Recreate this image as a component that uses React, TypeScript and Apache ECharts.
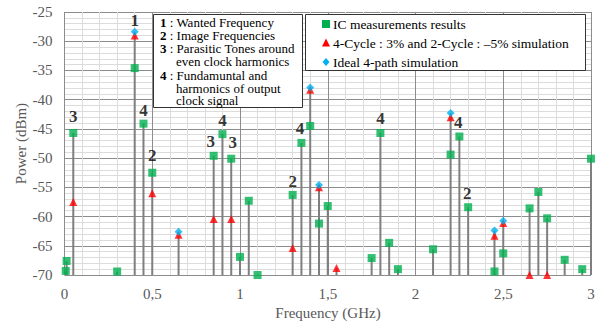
import React, { useEffect, useRef } from "react";
import * as echarts from "echarts";

// IC measurements (green squares)
const measFreq = [0.007, 0.012, 0.05, 0.3, 0.4, 0.45, 0.5, 0.85, 0.9, 0.95, 1.0, 1.05, 1.1, 1.3, 1.35, 1.4, 1.45, 1.5, 1.75, 1.8, 1.85, 1.9, 2.1, 2.2, 2.25, 2.3, 2.45, 2.5, 2.65, 2.7, 2.75, 2.85, 2.95, 3.0];
const measPower = [-69.3, -67.6, -45.7, -69.4, -34.6, -44.1, -52.5, -49.6, -45.9, -50.1, -66.9, -57.3, -70.0, -56.3, -47.4, -44.5, -61.2, -58.2, -67.1, -45.7, -64.5, -69.0, -65.6, -49.4, -46.3, -58.4, -69.4, -66.3, -58.6, -55.8, -60.3, -67.4, -69.0, -50.1];

// 4-Cycle 3% / 2-Cycle -5% simulation (red triangles)
const simFreq = [0.05, 0.4, 0.5, 0.65, 0.85, 0.95, 1.3, 1.4, 1.45, 1.55, 2.2, 2.45, 2.5, 2.65, 2.75];
const simPower = [-57.5, -29.0, -56.0, -63.1, -60.4, -60.4, -65.4, -38.3, -55.0, -68.8, -43.0, -63.3, -61.1, -70.0, -70.0];

// Ideal 4-path simulation (blue diamonds)
const idealFreq = [0.4, 0.65, 1.4, 1.45, 2.2, 2.45, 2.5];
const idealPower = [-28.4, -62.6, -37.9, -54.6, -42.3, -62.4, -60.7];

// Annotation numbers above peaks
const labelFreq = [0.4, 0.05, 0.45, 0.5, 0.833, 0.9, 0.958, 1.342, 1.8, 1.3, 2.244, 2.295];
const labelPower = [-26.5, -42.9, -41.8, -49.6, -47.2, -43.5, -47.4, -44.9, -43.3, -54.0, -43.9, -56.0];
const labelText = ["1", "3", "4", "2", "3", "4", "3", "4", "4", "2", "4", "2"];

const xTickLabels = ["0", "0,5", "1", "1,5", "2", "2,5", "3"];
const yTickLabels = ["-70", "-65", "-60", "-55", "-50", "-45", "-40", "-35", "-30", "-25"];

const seriesNames = [
  "IC measurements results",
  "4-Cycle : 3% and 2-Cycle : \u20135% simulation",
  "Ideal 4-path simulation",
];
const seriesColors = ["#00b050", "#ff0000", "#00b0f0"];

const noteLines = [
  { num: "1", text: "Wanted Frequency" },
  { num: "2", text: "Image Frequencies" },
  { num: "3", text: "Parasitic Tones around" },
  { num: "", text: "even clock harmonics" },
  { num: "4", text: "Fundamuntal and" },
  { num: "", text: "harmonics of output" },
  { num: "", text: "clock signal" },
];

const FONT = '"Liberation Serif", "Times New Roman", serif';

export default function App() {
  const ref = useRef<HTMLDivElement>(null);
  useEffect(() => {
    document.body.style.margin = "0";
    const chart = echarts.init(ref.current!, null, { renderer: "svg" });

    const zip = (f: number[], p: number[]) => f.map((x, i) => [x, p[i]]);
    const stemMap = new Map<string, number[]>();
    [...zip(measFreq, measPower), ...zip(simFreq, simPower), ...zip(idealFreq, idealPower)].forEach(([f, p]) => {
      const k = f.toFixed(3);
      const cur = stemMap.get(k);
      if (!cur || p > cur[1]) stemMap.set(k, [f, p]);
    });
    const stems = Array.from(stemMap.values());

    const g: any[] = [];
    // annotation box
    const noteY = [22, 35, 48, 61, 75, 88, 100];
    g.push({
      type: "rect",
      z: 100,
      shape: { x: 153.5, y: 14.5, width: 149, height: 93 },
      style: { fill: "#fff", stroke: "#333", lineWidth: 1 },
    });
    noteLines.forEach((l, i) => {
      g.push({
        type: "text",
        z: 101,
        x: l.num ? 160 : 176,
        y: noteY[i],
        style: {
          text: l.num ? `{b|${l.num}} : ${l.text}` : l.text,
          font: `13px ${FONT}`,
          fill: "#000",
          textVerticalAlign: "middle",
          rich: { b: { fontWeight: "bold", fontSize: 13, fontFamily: FONT, fill: "#000" } },
        },
      });
    });

    // legend box
    const legY = [24, 43, 62];
    const sx = 326;
    g.push({
      type: "rect",
      z: 100,
      shape: { x: 305.5, y: 14.5, width: 280, height: 56 },
      style: { fill: "#fff", stroke: "#333", lineWidth: 1 },
    });
    g.push({
      type: "rect",
      z: 101,
      shape: { x: sx - 4, y: legY[0] - 4, width: 8, height: 8 },
      style: { fill: seriesColors[0] },
    });
    g.push({
      type: "polygon",
      z: 101,
      shape: { points: [[sx, legY[1] - 4.5], [sx + 4, legY[1] + 3.5], [sx - 4, legY[1] + 3.5]] },
      style: { fill: seriesColors[1] },
    });
    g.push({
      type: "polygon",
      z: 101,
      shape: { points: [[sx, legY[2] - 4], [sx + 3.5, legY[2]], [sx, legY[2] + 4], [sx - 3.5, legY[2]]] },
      style: { fill: seriesColors[2] },
    });
    seriesNames.forEach((n, i) => {
      g.push({
        type: "text",
        z: 101,
        x: 333,
        y: legY[i],
        style: { text: n, font: `13.5px ${FONT}`, fill: "#000", textVerticalAlign: "middle" },
      });
    });

    // axis names
    g.push({
      type: "text",
      z: 50,
      x: 21,
      y: 143.5,
      rotation: Math.PI / 2,
      style: {
        text: "Power (dBm)",
        font: `15px ${FONT}`,
        fill: "#595959",
        textAlign: "center",
        textVerticalAlign: "middle",
      },
    });
    g.push({
      type: "text",
      z: 50,
      x: 328,
      y: 313,
      style: {
        text: "Frequency (GHz)",
        font: `15px ${FONT}`,
        fill: "#595959",
        textAlign: "center",
        textVerticalAlign: "middle",
      },
    });

    const axisCommon = {
      axisLine: { show: false },
      axisTick: { show: false },
      splitLine: { show: true, lineStyle: { color: "#8c8c8c", width: 1 } },
      minorTick: { show: false, splitNumber: 5 },
      minorSplitLine: { show: true, lineStyle: { color: "#dcdcdc", width: 1 } },
    };
    const tickRich = { t: { fontSize: 15, fontFamily: FONT, color: "#595959" } };

    const option: any = {
      animation: false,
      backgroundColor: "#fff",
      textStyle: { fontFamily: FONT },
      grid: { left: 64.5, right: 8, top: 12, bottom: 49, containLabel: false },
      xAxis: {
        type: "value",
        min: 0,
        max: 3,
        interval: 0.5,
        ...axisCommon,
        axisLabel: {
          fontFamily: FONT,
          fontSize: 15,
          color: "#595959",
          margin: 11,
          rich: tickRich,
          formatter: (v: number) => `{t|${xTickLabels[Math.round(v / 0.5)]}}`,
        },
      },
      yAxis: {
        type: "value",
        min: -70,
        max: -25,
        interval: 5,
        ...axisCommon,
        axisLabel: {
          fontFamily: FONT,
          fontSize: 15,
          color: "#595959",
          margin: 12,
          rich: tickRich,
          formatter: (v: number) => `{t|${yTickLabels[Math.round((v + 70) / 5)]}}`,
        },
      },
      graphic: g,
      series: [
        {
          type: "custom",
          name: "stems",
          data: stems,
          z: 2,
          renderItem: (params: any, api: any) => {
            const top = api.coord([api.value(0), api.value(1)]);
            const bot = api.coord([api.value(0), -70]);
            return {
              type: "line",
              shape: { x1: top[0], y1: top[1], x2: bot[0], y2: bot[1] },
              style: { stroke: "#7f7f7f", lineWidth: 2 },
            };
          },
        },
        {
          type: "scatter",
          name: seriesNames[0],
          data: zip(measFreq, measPower),
          symbol: "rect",
          symbolSize: 8,
          itemStyle: { color: seriesColors[0] },
          z: 3,
        },
        {
          type: "scatter",
          name: seriesNames[1],
          data: zip(simFreq, simPower),
          symbol: "triangle",
          symbolSize: 8,
          itemStyle: { color: seriesColors[1] },
          z: 4,
        },
        {
          type: "scatter",
          name: seriesNames[2],
          data: zip(idealFreq, idealPower),
          symbol: "diamond",
          symbolSize: 8,
          itemStyle: { color: seriesColors[2] },
          z: 5,
        },
        {
          type: "scatter",
          name: "labels",
          data: labelFreq.map((f, i) => [f, labelPower[i], labelText[i]]),
          symbolSize: 0,
          silent: true,
          z: 6,
          label: {
            show: true,
            position: "inside",
            formatter: (p: any) => p.data[2],
            fontFamily: FONT,
            fontWeight: "bold",
            fontSize: 17,
            color: "#000",
          },
        },
      ],
    };
    chart.setOption(option);
    return () => chart.dispose();
  }, []);
  return <div ref={ref} style={{ width: 599, height: 324 }} />;
}
